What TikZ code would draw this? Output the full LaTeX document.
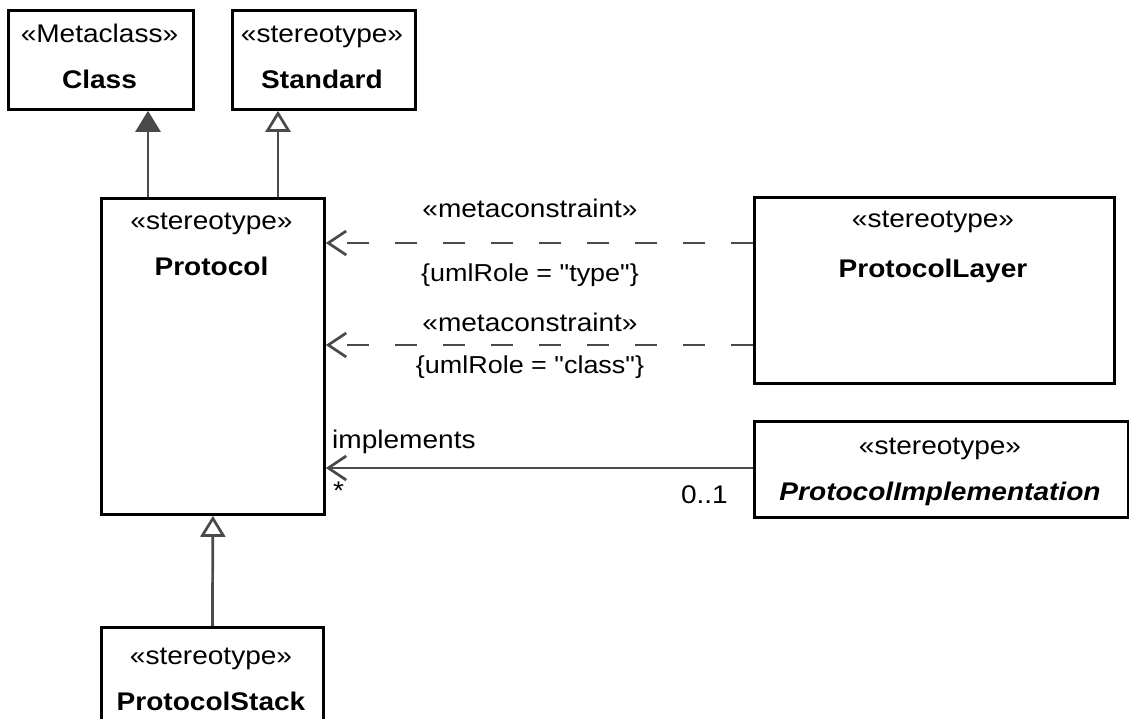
\documentclass[tikz,border=0pt]{standalone}
\usepackage{fontspec}
\setmainfont[FakeStretch=1.1, Ligatures=TeXOff]{Liberation Sans}
\usetikzlibrary{arrows.meta}
\definecolor{linkgray}{HTML}{4A4A4A}

\begin{document}
\begin{tikzpicture}[x=1pt, y=-1pt,
    every node/.style={font=\fontsize{25.5}{46}\selectfont},
    umlbox/.style={draw, line width=2.8pt, inner sep=0pt, anchor=north west},
    boxtext/.style={align=center, anchor=base, inner sep=0pt},
    link/.style={draw=linkgray, line width=2.7pt},
    gen/.style={link, -{Triangle[open, fill=white, length=21pt, width=25pt]}},
    genfill/.style={link, -{Triangle[fill=linkgray, length=21pt, width=25pt]}},
    dep/.style={link, dash pattern=on 22pt off 26pt, -{Straight Barb[length=18pt, width=24pt]}},
    assoc/.style={link, -{Straight Barb[length=18pt, width=24pt]}},
    small/.style={font=\fontsize{24.5}{30}\selectfont}]
    \useasboundingbox (0,0) rectangle (1129,719);

    % Boxes (top left corner, width, height)
    \node[umlbox, minimum width=185pt, minimum height=99pt]  (class)    at (7,9)     {};
    \node[umlbox, minimum width=183pt, minimum height=99pt]  (standard) at (231,9)   {};
    \node[umlbox, minimum width=223pt, minimum height=316pt] (protocol) at (100,197) {};
    \node[umlbox, minimum width=360pt, minimum height=186pt] (layer)    at (753,196) {};
    \node[umlbox, minimum width=374pt, minimum height=96pt]  (impl)     at (753,420) {};
    \node[umlbox, minimum width=222pt, minimum height=130pt] (stack)    at (100,626) {};

    % Box texts (anchored at the baseline of the name line)
    \node[boxtext] (classtext)    at (99.5,89) {«Metaclass»\\\textbf{Class}};
    \node[boxtext] (standardtext) at (322,89)  {«stereotype»\\\textbf{Standard}};
    \node[boxtext] (protocoltext) at (211.5,276) {«stereotype»\\\textbf{Protocol}};
    \node[boxtext] (layertext)    at (933,277) {«stereotype»\\[4pt]\textbf{ProtocolLayer}};
    \node[boxtext] (impltext)     at (940,500) {«stereotype»\\\textbf{\itshape ProtocolImplementation}};
    \node[boxtext] (stacktext)    at (211,710) {«stereotype»\\\textbf{ProtocolStack}};

    % Generalizations
    \draw[genfill] ([xshift=48pt]protocol.north west) -- ([xshift=48pt]protocol.north west |- class.south);
    \draw[gen] ([xshift=178pt]protocol.north west) -- ([xshift=178pt]protocol.north west |- standard.south);
    \draw[gen] (stack.north) -- (protocol.south);

    % Metaconstraints from ProtocolLayer
    \coordinate (typeend)  at ([yshift=-47pt]layer.north west);
    \coordinate (classend) at ([yshift=-149pt]layer.north west);
    \draw[dep] (typeend) -- (typeend -| protocol.east);
    \draw[dep] (classend) -- (classend -| protocol.east);
    \node[anchor=base] (mc1) at (530,218) {«metaconstraint»};
    \node[anchor=base, small] (role1) at (530,281) {\{umlRole = "type"\}};
    \node[anchor=base] (mc2) at (530,331) {«metaconstraint»};
    \node[anchor=base, small] (role2) at (530,373) {\{umlRole = "class"\}};

    % Association
    \coordinate (implend) at ([yshift=-48pt]impl.north west);
    \draw[assoc] (implend) -- (implend -| protocol.east);
    \node[anchor=base west, inner sep=0pt] (implements) at (332,448) {implements};
    \node[anchor=base west, inner sep=0pt] (many) at (333,499) {*};
    \node[anchor=base east, inner sep=0pt] (optional) at (728,503) {0..1};
\end{tikzpicture}
\end{document}
